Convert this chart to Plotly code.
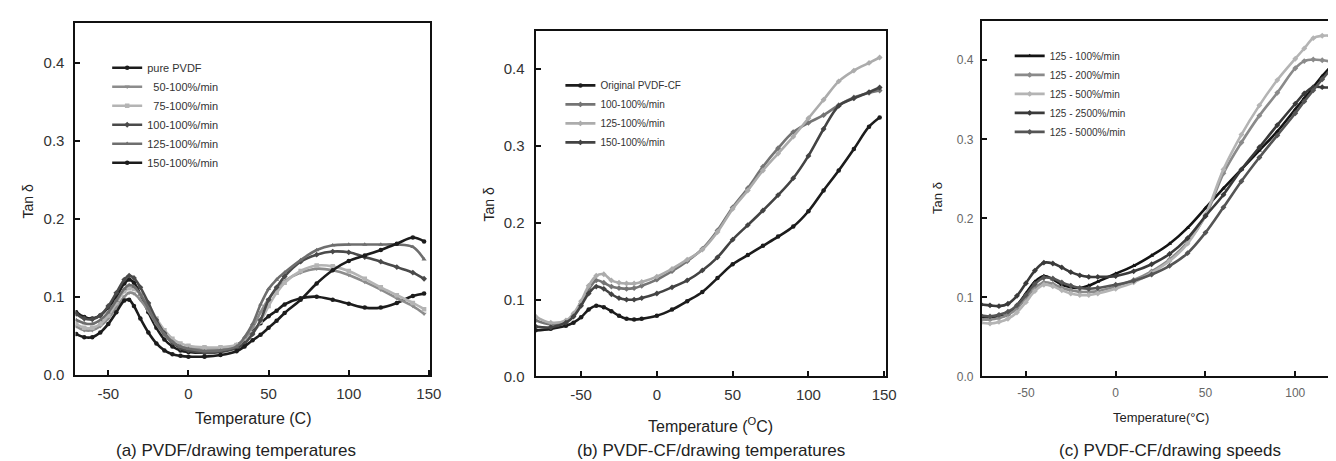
import plotly.graph_objects as go

# ---------------- Panel (a): PVDF / drawing temperatures ----------------
temp_a = [-70, -65, -60, -55, -50, -45, -40, -37, -34, -30, -25, -20, -15, -10, -5, 0, 10, 20, 30, 35,
          40, 45, 50, 55, 60, 70, 80, 90, 100, 110, 120, 130, 140, 147]
a_pure = [0.080, 0.074, 0.072, 0.076, 0.086, 0.100, 0.117, 0.122, 0.118, 0.103, 0.080, 0.060, 0.045, 0.036, 0.031, 0.029, 0.028, 0.031, 0.038, 0.045,
          0.055, 0.066, 0.075, 0.082, 0.090, 0.098, 0.100, 0.096, 0.091, 0.086, 0.086, 0.092, 0.101, 0.104]
a_50 = [0.062, 0.057, 0.057, 0.062, 0.072, 0.086, 0.100, 0.105, 0.104, 0.096, 0.082, 0.065, 0.051, 0.041, 0.036, 0.034, 0.032, 0.033, 0.037, 0.045,
        0.060, 0.080, 0.097, 0.110, 0.120, 0.131, 0.136, 0.134, 0.128, 0.119, 0.109, 0.098, 0.088, 0.078]
a_75 = [0.065, 0.060, 0.060, 0.065, 0.076, 0.092, 0.107, 0.111, 0.110, 0.103, 0.090, 0.072, 0.057, 0.046, 0.040, 0.037, 0.035, 0.035, 0.038, 0.043,
        0.053, 0.068, 0.088, 0.105, 0.118, 0.133, 0.140, 0.139, 0.133, 0.123, 0.112, 0.102, 0.092, 0.084]
a_100 = [0.078, 0.072, 0.071, 0.076, 0.088, 0.105, 0.122, 0.127, 0.124, 0.112, 0.092, 0.070, 0.053, 0.041, 0.034, 0.031, 0.028, 0.029, 0.034, 0.040,
         0.052, 0.070, 0.096, 0.112, 0.126, 0.145, 0.154, 0.158, 0.157, 0.151, 0.145, 0.138, 0.131, 0.123]
a_125 = [0.070, 0.066, 0.065, 0.070, 0.080, 0.095, 0.110, 0.115, 0.113, 0.103, 0.085, 0.066, 0.052, 0.042, 0.036, 0.033, 0.030, 0.031, 0.036, 0.048,
         0.065, 0.090, 0.110, 0.122, 0.131, 0.147, 0.160, 0.166, 0.167, 0.167, 0.167, 0.167, 0.164, 0.148]
a_150 = [0.052, 0.048, 0.048, 0.054, 0.065, 0.080, 0.095, 0.096, 0.088, 0.072, 0.054, 0.040, 0.031, 0.026, 0.024, 0.023, 0.023, 0.025, 0.030, 0.036,
         0.044, 0.051, 0.060, 0.069, 0.079, 0.096, 0.117, 0.134, 0.146, 0.153, 0.160, 0.168, 0.176, 0.171]

# ---------------- Panel (b): PVDF-CF / drawing temperatures ----------------
temp_b = [-80, -70, -60, -55, -50, -45, -40, -35, -30, -25, -20, -15, -10, 0, 10, 20, 30, 40, 50, 60,
          70, 80, 90, 100, 110, 120, 130, 140, 147]
b_orig = [0.060, 0.062, 0.066, 0.070, 0.077, 0.087, 0.092, 0.090, 0.085, 0.079, 0.075, 0.074, 0.075, 0.079, 0.087, 0.098, 0.110, 0.128, 0.146, 0.158,
          0.170, 0.182, 0.195, 0.215, 0.242, 0.268, 0.296, 0.325, 0.337]
b_100 = [0.073, 0.068, 0.072, 0.080, 0.095, 0.113, 0.125, 0.122, 0.117, 0.115, 0.114, 0.115, 0.118, 0.126, 0.137, 0.150, 0.166, 0.190, 0.220, 0.245,
         0.273, 0.297, 0.318, 0.330, 0.340, 0.353, 0.363, 0.369, 0.372]
b_125 = [0.078, 0.070, 0.073, 0.082, 0.098, 0.118, 0.131, 0.133, 0.125, 0.122, 0.121, 0.121, 0.123, 0.130, 0.140, 0.152, 0.165, 0.188, 0.218, 0.242,
         0.268, 0.290, 0.312, 0.336, 0.360, 0.384, 0.398, 0.408, 0.415]
b_150 = [0.065, 0.064, 0.070, 0.078, 0.092, 0.108, 0.117, 0.114, 0.107, 0.102, 0.100, 0.100, 0.102, 0.108, 0.116, 0.125, 0.138, 0.155, 0.178, 0.197,
         0.216, 0.236, 0.258, 0.287, 0.322, 0.352, 0.362, 0.370, 0.376]

# ---------------- Panel (c): PVDF-CF / drawing speeds ----------------
temp_c = [-75, -70, -65, -60, -55, -50, -45, -40, -35, -30, -25, -20, -15, -10, 0, 10, 20, 30, 40, 50,
          60, 70, 80, 90, 100, 105, 110, 115, 121]
c_100 = [0.075, 0.075, 0.076, 0.078, 0.090, 0.105, 0.120, 0.127, 0.123, 0.116, 0.113, 0.112, 0.115, 0.120, 0.130, 0.140, 0.153, 0.168, 0.188, 0.213,
         0.238, 0.262, 0.286, 0.310, 0.338, 0.352, 0.366, 0.380, 0.395]
c_200 = [0.072, 0.072, 0.074, 0.078, 0.086, 0.099, 0.112, 0.119, 0.117, 0.112, 0.109, 0.107, 0.107, 0.108, 0.114, 0.122, 0.133, 0.148, 0.170, 0.203,
         0.257, 0.296, 0.330, 0.359, 0.390, 0.399, 0.401, 0.400, 0.398]
c_500 = [0.068, 0.067, 0.069, 0.073, 0.081, 0.094, 0.108, 0.116, 0.114, 0.109, 0.105, 0.103, 0.103, 0.105, 0.111, 0.119, 0.131, 0.146, 0.168, 0.205,
         0.262, 0.306, 0.343, 0.375, 0.402, 0.415, 0.428, 0.431, 0.431]
c_2500 = [0.091, 0.090, 0.089, 0.092, 0.102, 0.118, 0.134, 0.144, 0.143, 0.138, 0.132, 0.128, 0.126, 0.126, 0.127, 0.133, 0.142, 0.155, 0.175, 0.203,
          0.230, 0.262, 0.290, 0.318, 0.345, 0.358, 0.366, 0.366, 0.365]
c_5000 = [0.077, 0.076, 0.078, 0.082, 0.090, 0.103, 0.117, 0.125, 0.124, 0.119, 0.115, 0.112, 0.111, 0.112, 0.116, 0.121, 0.129, 0.140, 0.156, 0.182,
          0.214, 0.247, 0.277, 0.305, 0.333, 0.348, 0.362, 0.376, 0.392]

# tick labels
x_ticks_ab = [-50, 0, 50, 100, 150]
x_labels_ab = ["-50", "0", "50", "100", "150"]
x_ticks_c = [-50, 0, 50, 100]
x_labels_c = ["-50", "0", "50", "100"]
y_ticks = [0, 0.1, 0.2, 0.3, 0.4]
y_labels = ["0.0", "0.1", "0.2", "0.3", "0.4"]

FONT = "Liberation Sans, Arial, sans-serif"
fig = go.Figure()


def add(x, y, name, color, symbol, ax, legend):
    fig.add_trace(go.Scatter(
        x=x, y=y, name=name, mode="lines+markers", line=dict(color=color, width=2.6, shape="spline"),
        marker=dict(color=color, size=4.5, symbol=symbol),
        xaxis=ax[0], yaxis=ax[1], legend=legend))


A = ("x", "y")
B = ("x2", "y2")
C = ("x3", "y3")
add(temp_a, a_pure, "pure PVDF", "#1c1c1c", "circle", A, "legend")
add(temp_a, a_50, "  50-100%/min", "#8c8c8c", "triangle-down", A, "legend")
add(temp_a, a_75, "  75-100%/min", "#b4b4b4", "square", A, "legend")
add(temp_a, a_100, "100-100%/min", "#4a4a4a", "diamond", A, "legend")
add(temp_a, a_125, "125-100%/min", "#6e6e6e", "triangle-up", A, "legend")
add(temp_a, a_150, "150-100%/min", "#1c1c1c", "circle", A, "legend")

add(temp_b, b_orig, "Original PVDF-CF", "#1c1c1c", "circle", B, "legend2")
add(temp_b, b_100, "100-100%/min", "#747474", "diamond", B, "legend2")
add(temp_b, b_125, "125-100%/min", "#acacac", "diamond", B, "legend2")
add(temp_b, b_150, "150-100%/min", "#434343", "diamond", B, "legend2")

add(temp_c, c_100, "125 - 100%/min", "#141414", "triangle-up", C, "legend3")
add(temp_c, c_200, "125 - 200%/min", "#8a8a8a", "diamond", C, "legend3")
add(temp_c, c_500, "125 - 500%/min", "#b4b4b4", "diamond", C, "legend3")
add(temp_c, c_2500, "125 - 2500%/min", "#3a3a3a", "diamond", C, "legend3")
add(temp_c, c_5000, "125 - 5000%/min", "#555555", "diamond", C, "legend3")

W, H = 1336, 461


def px_x(p):
    return p / W


def px_y(p):
    return 1 - p / H


base_ax = dict(showline=True, linecolor="#111111", linewidth=2, ticks="inside", ticklen=5,
               tickwidth=1.5, tickcolor="#111111", showgrid=False, zeroline=False,
               tickfont=dict(family=FONT, size=15, color="#333333"))
c_font = dict(family=FONT, size=12, color="#666666")

fig.update_layout(
    width=W, height=H, margin=dict(l=0, r=0, t=0, b=0),
    paper_bgcolor="white", plot_bgcolor="white", font=dict(family=FONT),
    xaxis=dict(base_ax, domain=[px_x(68), px_x(426)], range=[-70.5, 151], tickvals=x_ticks_ab,
               ticktext=x_labels_ab, mirror=True, anchor="y", ticklabelstandoff=4),
    yaxis=dict(base_ax, domain=[px_y(373), px_y(15)], range=[0, 0.452], tickvals=y_ticks,
               ticktext=y_labels, mirror=True, anchor="x", ticklabelstandoff=6),
    xaxis2=dict(base_ax, domain=[px_x(532), px_x(885)], range=[-80, 151], tickvals=x_ticks_ab,
                ticktext=x_labels_ab, mirror=True, anchor="y2", ticklabelstandoff=4),
    yaxis2=dict(base_ax, domain=[px_y(375), px_y(23)], range=[0, 0.45], tickvals=y_ticks,
                ticktext=y_labels, mirror=True, anchor="x2", ticklabelstandoff=6),
    xaxis3=dict(base_ax, domain=[px_x(982), 1.0], range=[-74.5, 121], tickvals=x_ticks_c,
                ticktext=x_labels_c, mirror=True, anchor="y3", tickfont=c_font, ticklabelstandoff=4),
    yaxis3=dict(base_ax, domain=[px_y(375), px_y(13)], range=[0, 0.45], tickvals=y_ticks,
                ticktext=y_labels, mirror=False, anchor="x3", tickfont=c_font, ticklabelstandoff=4),
    legend=dict(x=px_x(100), y=px_y(46), xanchor="left", yanchor="top", bgcolor="rgba(0,0,0,0)",
                font=dict(family=FONT, size=11, color="#333333")),
    legend2=dict(x=px_x(557), y=px_y(64), xanchor="left", yanchor="top", bgcolor="rgba(0,0,0,0)",
                 font=dict(family=FONT, size=10, color="#333333")),
    legend3=dict(x=px_x(1010), y=px_y(34), xanchor="left", yanchor="top", bgcolor="rgba(0,0,0,0)",
                 font=dict(family=FONT, size=10, color="#333333")),
)

annos = [
    # y-axis titles
    dict(text="Tan δ", x=px_x(20), y=px_y(197), textangle=-90, size=14),
    dict(text="Tan δ", x=px_x(485), y=px_y(200), textangle=-90, size=14),
    dict(text="Tan δ", x=px_x(937), y=px_y(193), textangle=-90, size=13),
    # x-axis titles
    dict(text="Temperature (C)", x=px_x(247), y=px_y(418), textangle=0, size=16),
    dict(text="Temperature (<sup>O</sup>C)", x=px_x(708), y=px_y(424), textangle=0, size=16),
    dict(text="Temperature(°C)", x=px_x(1163), y=px_y(417), textangle=0, size=13),
    # captions
    dict(text="(a) PVDF/drawing temperatures", x=px_x(230), y=px_y(450), textangle=0, size=17),
    dict(text="(b) PVDF-CF/drawing temperatures", x=px_x(709), y=px_y(450), textangle=0, size=17),
    dict(text="(c) PVDF-CF/drawing speeds", x=px_x(1172), y=px_y(450), textangle=0, size=17),
]
for a in annos:
    fig.add_annotation(text=a["text"], x=a["x"], y=a["y"], xref="paper", yref="paper",
                       xanchor="center", yanchor="middle", showarrow=False, textangle=a["textangle"],
                       font=dict(family=FONT, size=a["size"], color="#222222"))

fig.write_html("out.html")
